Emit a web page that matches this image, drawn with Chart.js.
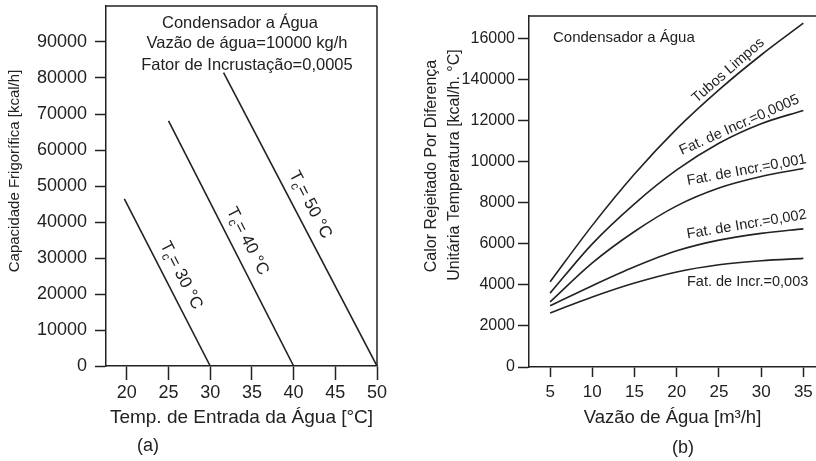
<!DOCTYPE html>
<html lang="pt">
<head>
<meta charset="utf-8">
<title>Condensador a Água</title>
<script src="https://cdn.jsdelivr.net/npm/chart.js@4/dist/chart.umd.min.js"></script>
<style>
  html, body { margin: 0; padding: 0; background: #fff; }
  #wrap { position: relative; width: 816px; height: 461px; overflow: hidden; background: #fff; }
  .panel { position: absolute; top: 0; width: 408px; height: 461px; }
  #pa { left: 0; }
  #pb { left: 408px; }
  .cap { position: absolute; font: 18px "Liberation Sans", Arial, sans-serif; color: #222;
         transform: translate(-50%, -50%); white-space: nowrap; }
</style>
</head>
<body>
<div id="wrap">
  <div class="panel" id="pa"><canvas id="chartA"></canvas></div>
  <div class="panel" id="pb"><canvas id="chartB"></canvas></div>
  <div class="cap" style="left:148px; top:445px">(a)</div>
  <div class="cap" style="left:683px; top:447px">(b)</div>
</div>
<script>
// ---- Panel (a): refrigerating capacity vs. inlet water temperature ----
const condensingTemps   = [30, 40, 50];            // Tc of each line [°C]
const lineStartInlet    = [19.7, 25, 31.6];        // inlet temperature where each line begins [°C]
const lineStartCapacity = [46400, 68100, 81500];   // capacity at that point [kcal/h]
const inletTicks        = [20, 25, 30, 35, 40, 45, 50];
const capacityTicks     = [0, 10000, 20000, 30000, 40000, 50000, 60000, 70000, 80000, 90000];
const notesA = ['Condensador a Água', 'Vazão de água=10000 kg/h', 'Fator de Incrustação=0,0005'];

// ---- Panel (b): heat rejected per unit temperature difference vs. water flow ----
const flowRates   = [5, 10, 15, 20, 25, 30, 35];            // m³/h
const heatClean   = [4150, 6900, 9400, 11600, 13500, 15200, 16750];
const heatF0005   = [3600, 6000, 7950, 9600, 10900, 11850, 12500];
const heatF001    = [3170, 5070, 6600, 7850, 8720, 9280, 9670];
const heatF002    = [2980, 3960, 4880, 5660, 6180, 6510, 6730];
const heatF003    = [2630, 3410, 4090, 4630, 4980, 5180, 5290];
const curveNames  = ['Tubos Limpos', 'Fat. de Incr.=0,0005', 'Fat. de Incr.=0,001',
                     'Fat. de Incr.=0,002', 'Fat. de Incr.=0,003'];
const flowTicks      = [5, 10, 15, 20, 25, 30, 35];
const heatTicks      = [0, 2000, 4000, 6000, 8000, 10000, 12000, 14000, 16000];
const heatTickLabels = ['0', '2000', '4000', '6000', '8000', '10000', '12000', '140000', '16000'];

const INK  = '#222';
const FONT = '"Liberation Sans", Arial, sans-serif';

// Plain text items placed in canvas pixels
function textPlugin(items) {
  return {
    id: 'panelText',
    afterDraw(chart) {
      const ctx = chart.ctx;
      items.forEach(it => {
        ctx.save();
        ctx.fillStyle = INK;
        ctx.font = it.size + 'px ' + FONT;
        ctx.textAlign = it.align || 'center';
        ctx.textBaseline = it.baseline || 'alphabetic';
        ctx.translate(it.x, it.y);
        if (it.rotate) ctx.rotate(it.rotate * Math.PI / 180);
        ctx.fillText(it.text, 0, 0);
        ctx.restore();
      });
    }
  };
}

// Extra sides of the plot frame (the axes draw left and bottom)
function framePlugin(sides) {
  return {
    id: 'frame',
    afterDatasetsDraw(chart) {
      const { ctx, chartArea: a } = chart;
      ctx.save();
      ctx.strokeStyle = INK;
      ctx.lineWidth = 1.5;
      ctx.beginPath();
      if (sides.includes('top'))   { ctx.moveTo(a.left, a.top);  ctx.lineTo(a.right, a.top); }
      if (sides.includes('right')) { ctx.moveTo(a.right, a.top); ctx.lineTo(a.right, a.bottom); }
      ctx.stroke();
      ctx.restore();
    }
  };
}

// "Tc= xx °C" written along each straight line
const tcLabels = {
  id: 'tcLabels',
  afterDatasetsDraw(chart) {
    const ctx = chart.ctx;
    const along = [0.5, 0.52, 0.475];
    const gap = 17;
    chart.data.datasets.forEach((ds, i) => {
      const [p0, p1] = chart.getDatasetMeta(i).data;
      const ang = Math.atan2(p1.y - p0.y, p1.x - p0.x);
      const fx = p0.x + (p1.x - p0.x) * along[i];
      const fy = p0.y + (p1.y - p0.y) * along[i];
      const cx = fx + gap * Math.sin(ang);
      const cy = fy - gap * Math.cos(ang);
      const parts = [['T', 17, 0], ['c', 12, 4], ['= ' + condensingTemps[i] + ' °C', 17, 0]];
      ctx.save();
      ctx.translate(cx, cy);
      ctx.rotate(ang);
      ctx.fillStyle = INK;
      ctx.textAlign = 'left';
      ctx.textBaseline = 'alphabetic';
      let total = 0;
      const widths = parts.map(([t, s]) => {
        ctx.font = s + 'px ' + FONT;
        const w = ctx.measureText(t).width;
        total += w;
        return w;
      });
      let x = -total / 2;
      const base = 17 * 0.36;
      parts.forEach(([t, s, dy], k) => {
        ctx.font = s + 'px ' + FONT;
        ctx.fillText(t, x, base + dy);
        x += widths[k];
      });
      ctx.restore();
    });
  }
};

// Curve names written just above (or below) each curve
const curveLabelPlacement = [
  { at: 26.8, gap: 9,   angle: -41 },
  { at: 27.8, gap: 8,   angle: -24 },
  { at: 28.5, gap: 10,  angle: -10.5 },
  { at: 28.5, gap: 11,  angle: -9.5 },
  { at: 28.4, gap: -20, angle: 0 }
];
const curveLabels = {
  id: 'curveLabels',
  afterDatasetsDraw(chart) {
    const ctx = chart.ctx;
    const xs = chart.scales.x;
    chart.data.datasets.forEach((ds, i) => {
      const pl = curveLabelPlacement[i];
      const pts = chart.getDatasetMeta(i).data;
      const px = xs.getPixelForValue(pl.at);
      let py = pts[pts.length - 1].y;
      for (let k = 0; k < pts.length - 1; k++) {
        if (px >= pts[k].x && px <= pts[k + 1].x) {
          const t = (px - pts[k].x) / (pts[k + 1].x - pts[k].x);
          py = pts[k].y + (pts[k + 1].y - pts[k].y) * t;
          break;
        }
      }
      const a = pl.angle * Math.PI / 180;
      const cx = px + pl.gap * Math.sin(a);
      const cy = py - pl.gap * Math.cos(a);
      ctx.save();
      ctx.translate(cx, cy);
      ctx.rotate(a);
      ctx.fillStyle = INK;
      ctx.font = '14.5px ' + FONT;
      ctx.textAlign = 'center';
      ctx.textBaseline = 'middle';
      ctx.fillText(curveNames[i], 0, 0);
      ctx.restore();
    });
  }
};

function axisGrid(len) {
  return { drawOnChartArea: false, drawTicks: true, tickLength: len, tickWidth: 1.5, tickColor: INK };
}
const axisBorder = { display: true, color: INK, width: 1.5 };

// ---------- chart (a) ----------
new Chart(document.getElementById('chartA'), {
  type: 'line',
  data: {
    datasets: condensingTemps.map((tc, i) => ({
      label: 'Tc = ' + tc + ' °C',
      data: [{ x: lineStartInlet[i], y: lineStartCapacity[i] }, { x: tc, y: 0 }],
      borderColor: INK,
      borderWidth: 1.6,
      pointRadius: 0,
      fill: false
    }))
  },
  options: {
    responsive: true,
    maintainAspectRatio: false,
    animation: false,
    events: [],
    layout: { padding: { left: 0, right: 31, top: 6, bottom: 0 } },
    plugins: { legend: { display: false }, tooltip: { enabled: false } },
    scales: {
      x: {
        type: 'linear', min: 17.5, max: 50,
        afterBuildTicks: s => { s.ticks = inletTicks.map(v => ({ value: v })); },
        afterFit: s => { s.height = 95; s.paddingLeft = 0; s.paddingRight = 0; },
        grid: axisGrid(14),
        border: axisBorder,
        ticks: { color: INK, font: { family: FONT, size: 18 }, padding: 2, maxRotation: 0, autoSkip: false,
                 callback: v => String(v) },
        title: { display: true, text: 'Temp. de Entrada da Água [°C]', color: INK,
                 font: { family: FONT, size: 19 }, padding: { top: 0, bottom: 31.6 } }
      },
      y: {
        type: 'linear', min: 0, max: 100000,
        afterBuildTicks: s => { s.ticks = capacityTicks.map(v => ({ value: v })); },
        afterFit: s => { s.width = 106; s.paddingTop = 0; s.paddingBottom = 0; },
        grid: axisGrid(11),
        border: axisBorder,
        ticks: { color: INK, font: { family: FONT, size: 18 }, padding: 8, autoSkip: false,
                 callback: v => String(v) }
      }
    }
  },
  plugins: [
    framePlugin(['top', 'right']),
    tcLabels,
    textPlugin([
      { text: notesA[0], x: 240, y: 28, size: 16.5 },
      { text: notesA[1], x: 247, y: 48, size: 16.5 },
      { text: notesA[2], x: 247, y: 70, size: 16.5 },
      { text: 'Capacidade Frigorífica [kcal/h]', x: 15, y: 171, size: 15, rotate: -90, baseline: 'middle' }
    ])
  ]
});

// ---------- chart (b) ----------
const seriesB = [heatClean, heatF0005, heatF001, heatF002, heatF003];
new Chart(document.getElementById('chartB'), {
  type: 'line',
  data: {
    datasets: seriesB.map((vals, i) => ({
      label: curveNames[i],
      data: flowRates.map((q, k) => ({ x: q, y: vals[k] })),
      borderColor: INK,
      borderWidth: 1.6,
      pointRadius: 0,
      cubicInterpolationMode: 'monotone',
      fill: false
    }))
  },
  options: {
    responsive: true,
    maintainAspectRatio: false,
    animation: false,
    events: [],
    layout: { padding: { left: 0, right: 0, top: 16, bottom: 0 } },
    plugins: { legend: { display: false }, tooltip: { enabled: false } },
    scales: {
      x: {
        type: 'linear', min: 2.5, max: 36.5,
        afterBuildTicks: s => { s.ticks = flowTicks.map(v => ({ value: v })); },
        afterFit: s => { s.height = 94; s.paddingLeft = 0; s.paddingRight = 0; },
        grid: axisGrid(10),
        border: axisBorder,
        ticks: { color: INK, font: { family: FONT, size: 17 }, padding: 5, maxRotation: 0, autoSkip: false,
                 callback: v => String(v) },
        title: { display: true, text: 'Vazão de Água [m³/h]', color: INK,
                 font: { family: FONT, size: 18.5 }, padding: { top: 0, bottom: 32 } }
      },
      y: {
        type: 'linear', min: 0, max: 17100,
        afterBuildTicks: s => { s.ticks = heatTicks.map(v => ({ value: v })); },
        afterFit: s => { s.width = 121; s.paddingTop = 0; s.paddingBottom = 0; },
        grid: axisGrid(11),
        border: axisBorder,
        ticks: { color: INK, font: { family: FONT, size: 16 }, padding: 3, autoSkip: false,
                 callback: (v, i) => heatTickLabels[i] }
      }
    }
  },
  plugins: [
    framePlugin(['top']),
    curveLabels,
    textPlugin([
      { text: 'Condensador a Água', x: 145, y: 42, size: 15, align: 'left' },
      { text: 'Calor Rejeitado Por Diferença', x: 24, y: 166, size: 16, rotate: -90, baseline: 'middle' },
      { text: 'Unitária Temperatura [kcal/h. °C]', x: 47, y: 165, size: 16, rotate: -90, baseline: 'middle' }
    ])
  ]
});
</script>
</body>
</html>
